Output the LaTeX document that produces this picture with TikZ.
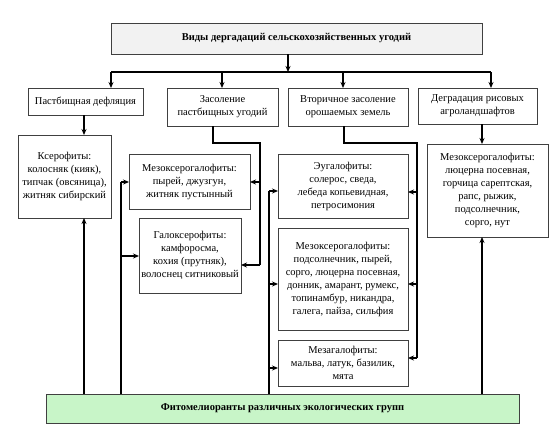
\documentclass[tikz,border=0pt]{standalone}
\usepackage{fontspec}
\setmainfont{Liberation Serif}
\usetikzlibrary{arrows.meta,calc}
\definecolor{topgray}{HTML}{F2F2F2}
\definecolor{lgreen}{HTML}{C8F5C8}
\begin{document}
\begin{tikzpicture}[x=1pt,y=-1pt,
  box/.style={draw=black!75, line width=0.9pt, fill=white, inner sep=0pt, outer sep=0pt, align=center, font=\fontsize{10.5}{13}\selectfont},
  con/.style={line width=1.6pt, black},
  arr/.style={con, -{Stealth[length=6pt,width=5pt]}},
]
\useasboundingbox (0,0) rectangle (556,439);
% nodes
\node[box, fill=topgray, minimum width=371, minimum height=31, font=\fontsize{10.5}{13}\selectfont\bfseries] (top) at (296.5,38.5) {Виды дергадаций сельскохозяйственных угодий};
\node[box, minimum width=115, minimum height=27] (b1) at (85.5,101.5) {Пастбищная дефляция};
\node[box, minimum width=111, minimum height=38] (b2) at (222.5,107) {Засоление\\пастбищных угодий};
\node[box, minimum width=120, minimum height=38] (b3) at (348,107) {Вторичное засоление\\орошаемых земель};
\node[box, minimum width=119, minimum height=36] (b4) at (477.5,106) {Деградация рисовых\\агроландшафтов};
\node[box, minimum width=93, minimum height=83] (ks) at (64.5,176.5) {Ксерофиты:\\колосняк (кияк),\\типчак (овсяница),\\житняк сибирский};
\node[box, minimum width=121, minimum height=55] (mx1) at (189.5,181.5) {Мезоксерогалофиты:\\пырей, джузгун,\\житняк пустынный};
\node[box, minimum width=102, minimum height=75] (gx) at (190,255.5) {Галоксерофиты:\\камфоросма,\\кохия (прутняк),\\волоснец ситниковый};
\node[box, minimum width=130, minimum height=64] (eu) at (343,186) {Эугалофиты:\\солерос, сведа,\\лебеда копьевидная,\\петросимония};
\node[box, minimum width=130, minimum height=102] (mx2) at (343,279) {Мезоксерогалофиты:\\подсолнечник, пырей,\\сорго, люцерна посевная,\\донник, амарант, румекс,\\топинамбур, никандра,\\галега, пайза, сильфия};
\node[box, minimum width=130, minimum height=46] (mg) at (343,363) {Мезагалофиты:\\мальва, латук, базилик,\\мята};
\node[box, minimum width=121, minimum height=93] (mx3) at (487.5,190.5) {Мезоксерогалофиты:\\люцерна посевная,\\горчица сарептская,\\рапс, рыжик,\\подсолнечник,\\сорго, нут};
\node[box, fill=lgreen, minimum width=473, minimum height=29, font=\fontsize{10.5}{13}\selectfont\bfseries] (green) at (282.5,408.5) {Фитомелиоранты различных экологических групп};
% coordinates
\coordinate (t) at (288,72);
\coordinate (bL) at (111,72);
\coordinate (bR) at (491,72);
\coordinate (c2) at (222,72);
\coordinate (c3) at (343,72);
\coordinate (k1) at (84,300);
\coordinate (s2) at (213,143);
\coordinate (r2) at (260,143);
\coordinate (g2) at (260,265);
\coordinate (l1) at (121,182);
\coordinate (l2) at (121,256);
\coordinate (s3) at (344,143);
\coordinate (r3) at (417,143);
\coordinate (e1) at (417,192);
\coordinate (e2) at (417,284);
\coordinate (e3) at (417,358);
\coordinate (w1) at (269,191);
\coordinate (w2) at (269,284);
\coordinate (w3) at (269,368);
\coordinate (v4) at (482,300);
% connectors
\draw[arr] (top.south -| t) -- (t);
\draw[con] (bL) -- (bR);
\draw[arr] (bL) -- (bL |- b1.north);
\draw[arr] (c2) -- (c2 |- b2.north);
\draw[arr] (c3) -- (c3 |- b3.north);
\draw[arr] (bR) -- (bR |- b4.north);
\draw[arr] (b1.south -| k1) -- (ks.north -| k1);
\draw[arr] (green.north -| k1) -- (ks.south -| k1);
% b2 route
\draw[con] (b2.south -| s2) -- (s2) -- (r2) -- (g2);
\draw[arr] (r2 |- l1) -- (l1 -| mx1.east);
\draw[arr] (g2) -- (g2 -| gx.east);
\draw[con] (green.north -| l1) -- (l1);
\draw[arr] (l1) -- (l1 -| mx1.west);
\draw[arr] (l2) -- (l2 -| gx.west);
% b3 route
\draw[con] (b3.south -| s3) -- (s3) -- (r3) -- (e3);
\draw[arr] (e1) -- (e1 -| eu.east);
\draw[arr] (e2) -- (e2 -| mx2.east);
\draw[arr] (e3) -- (e3 -| mg.east);
\draw[con] (green.north -| w1) -- (w1);
\draw[arr] (w1) -- (w1 -| eu.west);
\draw[arr] (w2) -- (w2 -| mx2.west);
\draw[arr] (w3) -- (w3 -| mg.west);
% b4 route
\draw[arr] (b4.south -| v4) -- (mx3.north -| v4);
\draw[arr] (green.north -| v4) -- (mx3.south -| v4);
\end{tikzpicture}
\end{document}
